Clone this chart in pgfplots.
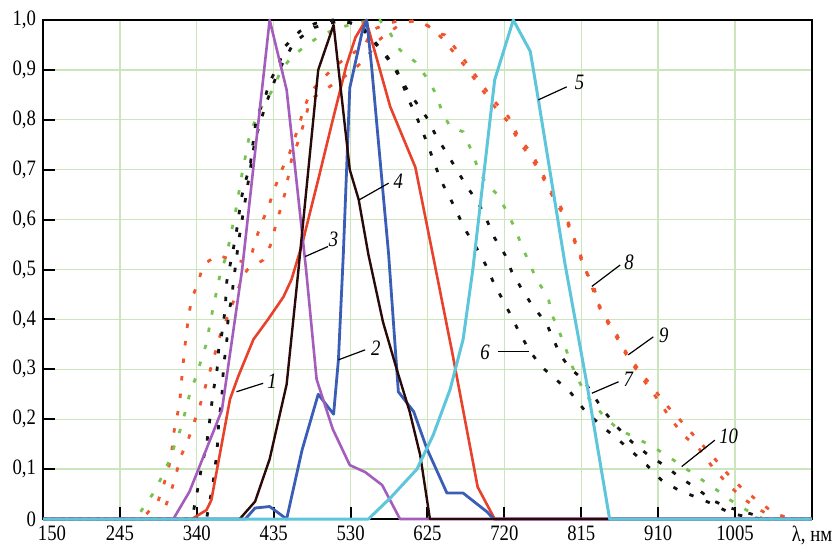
\documentclass[border=0pt]{standalone}
\usepackage{fontspec}
\setmainfont{Liberation Serif}[FakeStretch=0.85]
\usepackage{pgfplots}
\pgfplotsset{compat=1.18}
\definecolor{gridc}{HTML}{CDE5BC}
\definecolor{redS}{HTML}{E8412C}
\definecolor{redD}{HTML}{F0552E}
\definecolor{blueS}{HTML}{3A5DB6}
\definecolor{violet}{HTML}{A45DBC}
\definecolor{brown}{HTML}{2A0A08}
\definecolor{cyanS}{HTML}{5EC6DA}
\definecolor{greenD}{HTML}{77C352}
\definecolor{blackD}{HTML}{121212}
\tikzset{
  dots/.style={line width=1.4pt, dash pattern=on 2.2pt off 6.6pt, line cap=butt},
  sol/.style={line width=1.3pt, line join=round},
  lab/.style={font=\fontsize{11}{12}\selectfont\itshape, inner sep=1pt},
  ptr/.style={line width=0.6pt, black},
}
\begin{document}
\begin{tikzpicture}
\begin{axis}[
  scale only axis, width=384.5pt, height=249.5pt,
  xmin=150, xmax=1100, ymin=0, ymax=1, clip=false,
  xtick={150,245,340,435,530,625,720,815,910,1005},
  xticklabels={\makebox[0pt][l]{\kern-2.5pt 150},245,340,435,530,625,720,815,910,1005},
  ytick={0,0.1,0.2,0.3,0.4,0.5,0.6,0.7,0.8,0.9,1},
  yticklabels={0,{0,1},{0,2},{0,3},{0,4},{0,5},{0,6},{0,7},{0,8},{0,9},{1,0}},
  ticklabel style={font=\fontsize{11}{12}\selectfont},
  xtick pos=bottom, ytick pos=left, tick align=inside,
  major tick length=6pt, tick style={black, line width=1pt},
  grid=major, grid style={gridc, line width=0.7pt},
  axis line style={black, line width=0.8pt},
]
\coordinate (sw) at (rel axis cs:0,0);
\draw[black, line width=1.4pt] (rel axis cs:0,1) -- (rel axis cs:0,0) -- (rel axis cs:1,0);

% dotted curves
\addplot[redD, dots] coordinates {(150,0)(272,0)(292,0.035)(299,0.068)(305,0.1)(309,0.135)(311,0.168)(315,0.2)(319,0.235)(321,0.275)(325,0.342)(330,0.409)(334,0.442)(342,0.476)(348,0.509)(365,0.529)(383,0.52)(400,0.515)(408,0.532)(414,0.566)(422,0.6)(430,0.633)(437,0.666)(445,0.70)(453,0.726)(459,0.753)(465,0.783)(472,0.82)(480,0.855)(509,0.905)(521,0.92)(548,0.95)(556,0.98)(577,0.993)(592,1.0)(608,0.997)(624,0.99)(638,0.973)(647,0.97)(661,0.94)(675,0.91)(690,0.876)(706,0.84)(725,0.806)(737,0.766)(752,0.736)(764,0.703)(774,0.669)(787,0.633)(797,0.603)(807,0.559)(818,0.512)(824,0.482)(836,0.432)(846,0.402)(859,0.369)(871,0.332)(886,0.299)(904,0.262)(922,0.225)(939,0.195)(957,0.162)(976,0.128)(995,0.092)(1013,0.062)(1034,0.035)(1054,0.011)(1075,0)(1100,0)};
\addplot[redD, dots, dash phase=4pt] coordinates {(150,0)(296,0)(310,0.065)(321,0.128)(330,0.162)(344,0.228)(350,0.262)(356,0.295)(369,0.369)(379,0.409)(393,0.469)(402,0.499)(422,0.519)(432,0.552)(437,0.586)(443,0.619)(449,0.653)(453,0.686)(457,0.72)(463,0.746)(468,0.77)(474,0.803)(480,0.84)(531,0.896)(550,0.925)(565,0.96)(590,0.99)(610,1.0)(630,0.985)(645,0.96)(660,0.93)(675,0.9)(690,0.866)(706,0.83)(725,0.795)(738,0.756)(752,0.726)(765,0.693)(775,0.66)(788,0.623)(798,0.593)(808,0.55)(819,0.502)(830,0.469)(837,0.425)(847,0.395)(860,0.36)(872,0.325)(887,0.29)(910,0.238)(925,0.202)(941,0.168)(960,0.142)(978,0.102)(997,0.068)(1015,0.041)(1036,0.018)(1056,0)(1100,0)};
\addplot[greenD, dots, dash phase=2pt] coordinates {(150,0)(265,0)(272,0.018)(286,0.051)(297,0.085)(307,0.12)(313,0.15)(321,0.185)(332,0.255)(340,0.289)(346,0.322)(352,0.352)(356,0.389)(360,0.422)(369,0.492)(377,0.53)(385,0.593)(389,0.626)(396,0.693)(400,0.726)(404,0.76)(410,0.79)(420,0.826)(435,0.863)(443,0.896)(457,0.926)(476,0.95)(494,0.97)(517,0.985)(540,0.995)(566,1.0)(579,0.973)(591,0.94)(610,0.916)(626,0.88)(636,0.85)(643,0.816)(653,0.786)(669,0.776)(678,0.743)(686,0.709)(696,0.676)(712,0.649)(723,0.616)(733,0.583)(741,0.549)(750,0.516)(760,0.479)(774,0.445)(778,0.412)(787,0.379)(795,0.345)(803,0.309)(811,0.279)(824,0.242)(842,0.208)(859,0.182)(879,0.165)(900,0.148)(920,0.128)(939,0.107)(960,0.083)(980,0.061)(999,0.038)(1019,0.018)(1040,0)(1100,0)};
\addplot[blackD, dots] coordinates {(150,0)(334,0)(340,0.05)(346,0.105)(352,0.148)(356,0.198)(360,0.252)(365,0.299)(367,0.339)(371,0.372)(375,0.419)(377,0.476)(385,0.54)(389,0.576)(395,0.643)(400,0.676)(406,0.709)(410,0.76)(414,0.806)(424,0.843)(430,0.876)(441,0.91)(449,0.947)(467,0.977)(486,0.993)(508,1.0)(535,0.993)(550,0.973)(562,0.95)(587,0.9)(603,0.836)(613,0.8)(624,0.756)(641,0.68)(653,0.643)(663,0.609)(673,0.576)(686,0.542)(698,0.506)(706,0.476)(717,0.442)(729,0.405)(739,0.372)(752,0.335)(766,0.305)(782,0.282)(801,0.255)(817,0.222)(836,0.192)(854,0.168)(873,0.142)(896,0.108)(914,0.078)(935,0.058)(955,0.045)(976,0.031)(999,0.012)(1020,0.004)(1040,0)(1100,0)};
\addplot[blackD, dots, dash phase=5pt] coordinates {(150,0)(352,0)(360,0.071)(365,0.135)(367,0.192)(371,0.245)(373,0.305)(377,0.355)(379,0.412)(383,0.439)(385,0.472)(392,0.56)(400,0.64)(412,0.76)(425,0.83)(440,0.895)(460,0.955)(485,0.985)(520,1.0)(545,0.985)(576,0.925)(600,0.86)(626,0.8)(636,0.766)(649,0.733)(661,0.70)(675,0.663)(688,0.633)(698,0.6)(708,0.563)(721,0.529)(729,0.496)(741,0.462)(754,0.429)(772,0.392)(780,0.362)(789,0.329)(801,0.302)(817,0.28)(842,0.218)(859,0.185)(877,0.155)(898,0.128)(918,0.107)(937,0.083)(958,0.061)(976,0.038)(997,0.023)(1019,0.013)(1045,0)(1100,0)};

% solid curves
\addplot[redS, sol] coordinates {(150,0)(334,0)(352,0.018)(358,0.038)(381,0.24)(391,0.285)(410,0.36)(428,0.40)(447,0.445)(457,0.48)(470,0.55)(490,0.68)(508,0.8)(525,0.91)(536,0.965)(549,1.0)(579,0.826)(610,0.705)(634,0.51)(656,0.33)(687,0.064)(708,0)(1100,0)};
\addplot[blueS, sol, line width=1.4pt] coordinates {(150,0)(400,0)(412,0.022)(430,0.025)(451,0)(470,0.138)(490,0.25)(509,0.21)(515,0.32)(521,0.53)(529,0.864)(544,0.974)(550,1.0)(556,0.906)(577,0.53)(589,0.255)(608,0.215)(624,0.142)(649,0.052)(669,0.052)(698,0.015)(707,0)(1100,0)};
\addplot[violet, sol] coordinates {(150,0)(311,0)(331,0.055)(371,0.218)(396,0.5)(430,1.0)(451,0.86)(475,0.5)(488,0.28)(508,0.18)(529,0.108)(548,0.094)(569,0.068)(591,0)(1100,0)};
\addplot[brown, sol, line width=1.2pt] coordinates {(150,0)(393,0)(412,0.035)(430,0.12)(451,0.27)(465,0.49)(490,0.9)(509,0.99)(529,0.70)(540,0.64)(552,0.53)(570,0.395)(587,0.30)(603,0.215)(616,0.128)(628,0)(1100,0)};
\addplot[cyanS, sol, line width=1.5pt] coordinates {(150,0)(552,0)(579,0.042)(612,0.10)(632,0.168)(653,0.26)(669,0.36)(681,0.5)(708,0.88)(731,1.0)(752,0.937)(762,0.84)(776,0.70)(795,0.51)(822,0.27)(850,0)(1100,0)};

% curve labels
\draw[ptr] (axis cs:389,0.255) -- (axis cs:422,0.272);
\node[lab] at (axis cs:433,0.277) {1};
\draw[ptr] (axis cs:515,0.319) -- (axis cs:548,0.339);
\node[lab] at (axis cs:561,0.342) {2};
\draw[ptr] (axis cs:474,0.526) -- (axis cs:502,0.546);
\node[lab] at (axis cs:509,0.561) {3};
\draw[ptr] (axis cs:540,0.639) -- (axis cs:577,0.673);
\node[lab] at (axis cs:589,0.676) {4};
\draw[ptr] (axis cs:762,0.84) -- (axis cs:797,0.866);
\node[lab] at (axis cs:813,0.875) {5};
\draw[ptr] (axis cs:712,0.335) -- (axis cs:750,0.335);
\node[lab] at (axis cs:696,0.335) {6};
\draw[ptr] (axis cs:828,0.252) -- (axis cs:861,0.275);
\node[lab] at (axis cs:873,0.28) {7};
\draw[ptr] (axis cs:828,0.466) -- (axis cs:863,0.509);
\node[lab] at (axis cs:874,0.514) {8};
\draw[ptr] (axis cs:873,0.329) -- (axis cs:904,0.365);
\node[lab] at (axis cs:917,0.369) {9};
\draw[ptr] (axis cs:939,0.105) -- (axis cs:980,0.158);
\node[lab] at (axis cs:997,0.165) {10};

\node[anchor=north, font=\fontsize{11}{12}\selectfont, inner sep=0.333em] at (axis cs:1100,0) {λ, нм};
\end{axis}
\pgfresetboundingbox
\useasboundingbox ([shift={(-21.5pt,-16.5pt)}]sw) rectangle ([shift={(396pt,259.5pt)}]sw);
\end{tikzpicture}
\end{document}
